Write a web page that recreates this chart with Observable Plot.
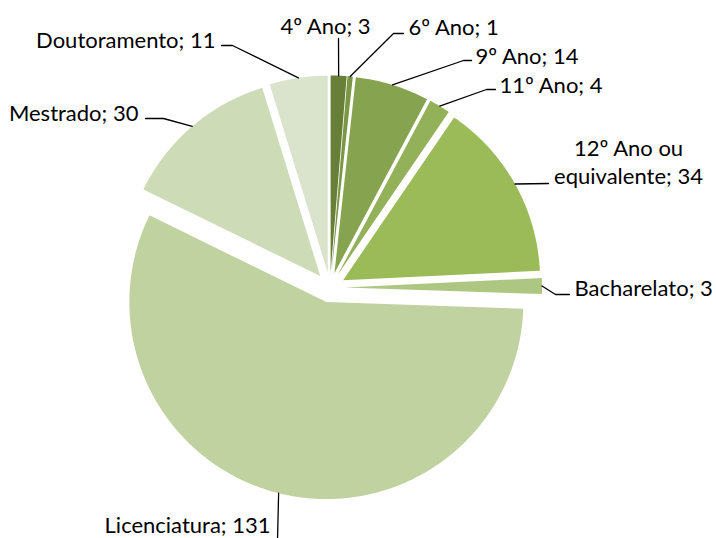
<!DOCTYPE html>
<html>
<head>
<meta charset="utf-8">
<script src="https://cdn.jsdelivr.net/npm/d3@7"></script>
<script src="https://cdn.jsdelivr.net/npm/@observablehq/plot@0.6"></script>
<style>
  html, body { margin: 0; padding: 0; background: #ffffff; }
  #chart { width: 716px; height: 538px; overflow: hidden; }
</style>
</head>
<body>
<div id="chart"></div>
<script>
// ---- data ----
const categories = ["4º Ano", "6º Ano", "9º Ano", "11º Ano", "12º Ano ou\nequivalente", "Bacharelato", "Licenciatura", "Mestrado", "Doutoramento"];
const values = [3, 1, 14, 4, 34, 3, 131, 30, 11];
const colors = ["#687F38", "#7A9744", "#86A450", "#93B159", "#9BBB59", "#ADC782", "#BFD2A0", "#CEDBB7", "#DAE3CB"];

// ---- layout (pixels) ----
const W = 716, H = 538;
const cx = 329.5, cy = 287, R = 197, EXPLODE = 15;
const FS = 22;
// label anchor: [x, baseline, textAnchor]
const labelPos = [
  [325, 32, "middle"], [408, 33, "start"], [475, 62, "start"], [499, 91, "start"],
  [628, 168, "middle"], [574, 294, "start"], [270, 531, "end"], [138, 119, "end"], [215, 46, "end"]
];
// leader line points after the arc midpoint
const leaderPts = [
  [[338, 38]], [[393, 33], [403, 33]], [[463, 60], [471, 60]], [[486, 89], [495, 89]],
  [[548, 183]], [[555, 294], [569, 294]], [[277, 540]], [[163, 118], [145, 118]], [[232, 45], [221, 45]]
];

const arcs = d3.pie().sort(null).value(d => d)(values);

const slicePts = [];
const leaderRows = [];
arcs.forEach((a, i) => {
  const mid = (a.startAngle + a.endAngle) / 2;
  const ox = cx + EXPLODE * Math.sin(mid), oy = cy - EXPLODE * Math.cos(mid);
  slicePts.push({k: i, x: ox, y: oy, c: colors[i]});
  const n = Math.max(2, Math.ceil((a.endAngle - a.startAngle) / (Math.PI / 360)));
  for (let j = 0; j <= n; j++) {
    const t = a.startAngle + (a.endAngle - a.startAngle) * j / n;
    slicePts.push({k: i, x: ox + R * Math.sin(t), y: oy - R * Math.cos(t), c: colors[i]});
  }
  leaderRows.push({k: i, x: ox + R * Math.sin(mid), y: oy - R * Math.cos(mid)});
  leaderPts[i].forEach(p => leaderRows.push({k: i, x: p[0], y: p[1]}));
});

const labels = categories.map((c, i) => ({
  text: c + "; " + values[i],
  x: labelPos[i][0],
  y: labelPos[i][1] - 0.32 * FS,
  anchor: labelPos[i][2]
}));

const textMark = (anchor) => Plot.text(labels.filter(d => d.anchor === anchor), {
  x: "x", y: "y", text: "text",
  textAnchor: anchor,
  fontSize: FS, fill: "#000000", lineAnchor: "middle", lineHeight: 1.27
});

const chart = Plot.plot({
  width: W, height: H,
  margin: 0,
  x: {domain: [0, W], range: [0, W], axis: null},
  y: {domain: [0, H], range: [0, H], axis: null},
  color: {type: "identity"},
  style: {background: "#ffffff", fontFamily: "Lato, 'Open Sans', sans-serif"},
  marks: [
    Plot.line(slicePts, {x: "x", y: "y", z: "k", fill: "c", stroke: null, curve: "linear-closed"}),
    Plot.line(leaderRows, {x: "x", y: "y", z: "k", stroke: "#000000", strokeWidth: 1.3}),
    textMark("start"),
    textMark("middle"),
    textMark("end")
  ]
});
document.getElementById("chart").appendChild(chart);
</script>
</body>
</html>
